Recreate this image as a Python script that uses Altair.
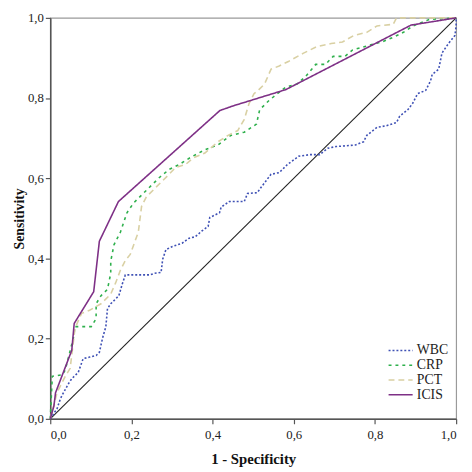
import altair as alt
import pandas as pd

series_names = ["WBC", "CRP", "PCT", "ICIS"]
series_colors = ["#3f51b5", "#2eb04c", "#d9d0a3", "#7e3086"]
series_dashes = [[2, 2], [3, 4], [6, 4], [1, 0]]

wbc_x = [0, 0.017, 0.025, 0.033, 0.045, 0.053, 0.069, 0.081, 0.097, 0.113, 0.121, 0.129, 0.137, 0.141, 0.149, 0.161, 0.169, 0.177, 0.185, 0.245, 0.257, 0.273, 0.277, 0.285, 0.301, 0.325, 0.341, 0.357, 0.373, 0.389, 0.393, 0.417, 0.421, 0.441, 0.478, 0.486, 0.51, 0.52, 0.544, 0.564, 0.584, 0.6, 0.612, 0.64, 0.664, 0.684, 0.704, 0.752, 0.772, 0.78, 0.805, 0.828, 0.853, 0.861, 0.881, 0.893, 0.905, 0.925, 0.937, 0.941, 0.957, 0.965, 0.981, 0.997, 1.0, 1.0]
wbc_y = [0, 0.026, 0.05, 0.066, 0.088, 0.1, 0.116, 0.15, 0.154, 0.158, 0.166, 0.202, 0.23, 0.275, 0.287, 0.299, 0.307, 0.335, 0.359, 0.359, 0.363, 0.365, 0.398, 0.422, 0.43, 0.438, 0.45, 0.454, 0.468, 0.48, 0.502, 0.514, 0.528, 0.542, 0.542, 0.562, 0.564, 0.578, 0.61, 0.614, 0.634, 0.646, 0.655, 0.659, 0.659, 0.675, 0.679, 0.683, 0.691, 0.707, 0.727, 0.731, 0.739, 0.755, 0.771, 0.787, 0.811, 0.819, 0.843, 0.859, 0.872, 0.912, 0.936, 0.956, 0.98, 1.0]

crp_x = [0, 0.005, 0.03, 0.037, 0.057, 0.061, 0.101, 0.113, 0.113, 0.125, 0.141, 0.149, 0.149, 0.157, 0.173, 0.189, 0.205, 0.225, 0.249, 0.269, 0.293, 0.317, 0.349, 0.381, 0.413, 0.445, 0.478, 0.508, 0.516, 0.54, 0.58, 0.608, 0.63, 0.654, 0.678, 0.697, 0.726, 0.745, 0.78, 0.817, 0.846, 0.87, 0.894, 0.934, 1.0]
crp_y = [0, 0.106, 0.11, 0.122, 0.202, 0.23, 0.23, 0.25, 0.287, 0.307, 0.323, 0.363, 0.393, 0.434, 0.466, 0.514, 0.538, 0.558, 0.582, 0.602, 0.622, 0.634, 0.654, 0.671, 0.683, 0.707, 0.715, 0.735, 0.771, 0.795, 0.827, 0.835, 0.855, 0.884, 0.884, 0.904, 0.904, 0.92, 0.93, 0.94, 0.952, 0.964, 0.98, 0.996, 1.0]

pct_x = [0, 0.017, 0.037, 0.049, 0.061, 0.077, 0.097, 0.125, 0.149, 0.161, 0.173, 0.185, 0.197, 0.217, 0.225, 0.237, 0.257, 0.289, 0.309, 0.333, 0.353, 0.381, 0.413, 0.438, 0.462, 0.478, 0.49, 0.502, 0.512, 0.528, 0.544, 0.564, 0.588, 0.624, 0.656, 0.692, 0.72, 0.748, 0.78, 0.805, 0.845, 0.853, 1.0]
pct_y = [0, 0.066, 0.106, 0.126, 0.226, 0.263, 0.271, 0.287, 0.311, 0.339, 0.371, 0.395, 0.41, 0.466, 0.53, 0.554, 0.574, 0.606, 0.627, 0.634, 0.651, 0.663, 0.691, 0.707, 0.719, 0.747, 0.787, 0.811, 0.819, 0.835, 0.872, 0.88, 0.892, 0.912, 0.928, 0.936, 0.94, 0.956, 0.964, 0.98, 0.984, 1.0, 1.0]

icis_x = [0, 0.009, 0.013, 0.053, 0.059, 0.107, 0.121, 0.168, 0.418, 0.452, 0.58, 0.889, 1.0]
icis_y = [0, 0.032, 0.065, 0.171, 0.238, 0.317, 0.443, 0.542, 0.769, 0.781, 0.821, 0.982, 1.0]

tick_values = [0, 0.2, 0.4, 0.6, 0.8, 1.0]

rows = []
for name, xs, ys in [("WBC", wbc_x, wbc_y), ("CRP", crp_x, crp_y),
                     ("PCT", pct_x, pct_y), ("ICIS", icis_x, icis_y)]:
    for i, (a, b) in enumerate(zip(xs, ys)):
        rows.append({"series": name, "fpr": a, "tpr": b, "order": i})
df = pd.DataFrame(rows)

diag = pd.DataFrame({"fpr": [0, 1], "tpr": [0, 1]})

label_expr = "replace(format(datum.value, '.1f'), '.', ',')"

x_scale = alt.Scale(domain=[0, 1], nice=False, zero=False)
y_scale = alt.Scale(domain=[0, 1], nice=False, zero=False)

x_axis = alt.Axis(values=tick_values, labelExpr=label_expr, title="1 - Specificity",
                  titlePadding=10, labelPadding=5)
y_axis = alt.Axis(values=tick_values, labelExpr=label_expr, title="Sensitivity",
                  titlePadding=1, labelPadding=2)

diag_line = alt.Chart(diag).mark_line(color="#222222", strokeWidth=1.1).encode(
    x=alt.X("fpr:Q", scale=x_scale, axis=x_axis),
    y=alt.Y("tpr:Q", scale=y_scale, axis=y_axis),
)

curves = alt.Chart(df).mark_line(strokeWidth=1.6).encode(
    x=alt.X("fpr:Q", scale=x_scale, axis=x_axis),
    y=alt.Y("tpr:Q", scale=y_scale, axis=y_axis),
    order="order:Q",
    color=alt.Color("series:N",
                    scale=alt.Scale(domain=series_names, range=series_colors),
                    legend=alt.Legend(title=None, orient="none", legendX=343, legendY=331,
                                      padding=0, symbolType="stroke", symbolSize=600,
                                      clipHeight=15,
                                      symbolStrokeWidth=1.6, labelFont="Liberation Serif",
                                      labelFontSize=14, labelColor="#222222",
                                      rowPadding=0, labelOffset=3)),
    strokeDash=alt.StrokeDash("series:N",
                              scale=alt.Scale(domain=series_names, range=series_dashes),
                              legend=None),
)

chart = alt.layer(diag_line, curves).properties(
    width=413, height=408,
    autosize=alt.AutoSizeParams(type="none"),
    padding={"left": 43, "top": 6, "right": 8, "bottom": 48},
).configure_view(
    stroke="#9a9a9a", strokeWidth=1.2
).configure_axis(
    grid=False,
    labelFont="Liberation Serif", labelFontSize=13, labelColor="#222222",
    titleFont="Liberation Serif", titleFontSize=15, titleFontWeight="bold",
    titleColor="#111111",
    domainColor="#555555", domainWidth=1.6, tickColor="#555555", tickSize=5,
    tickWidth=1.2,
).configure_axisY(
    titleFontSize=14
)

chart.save("out.html", embed_options={"renderer": "svg", "actions": False})
